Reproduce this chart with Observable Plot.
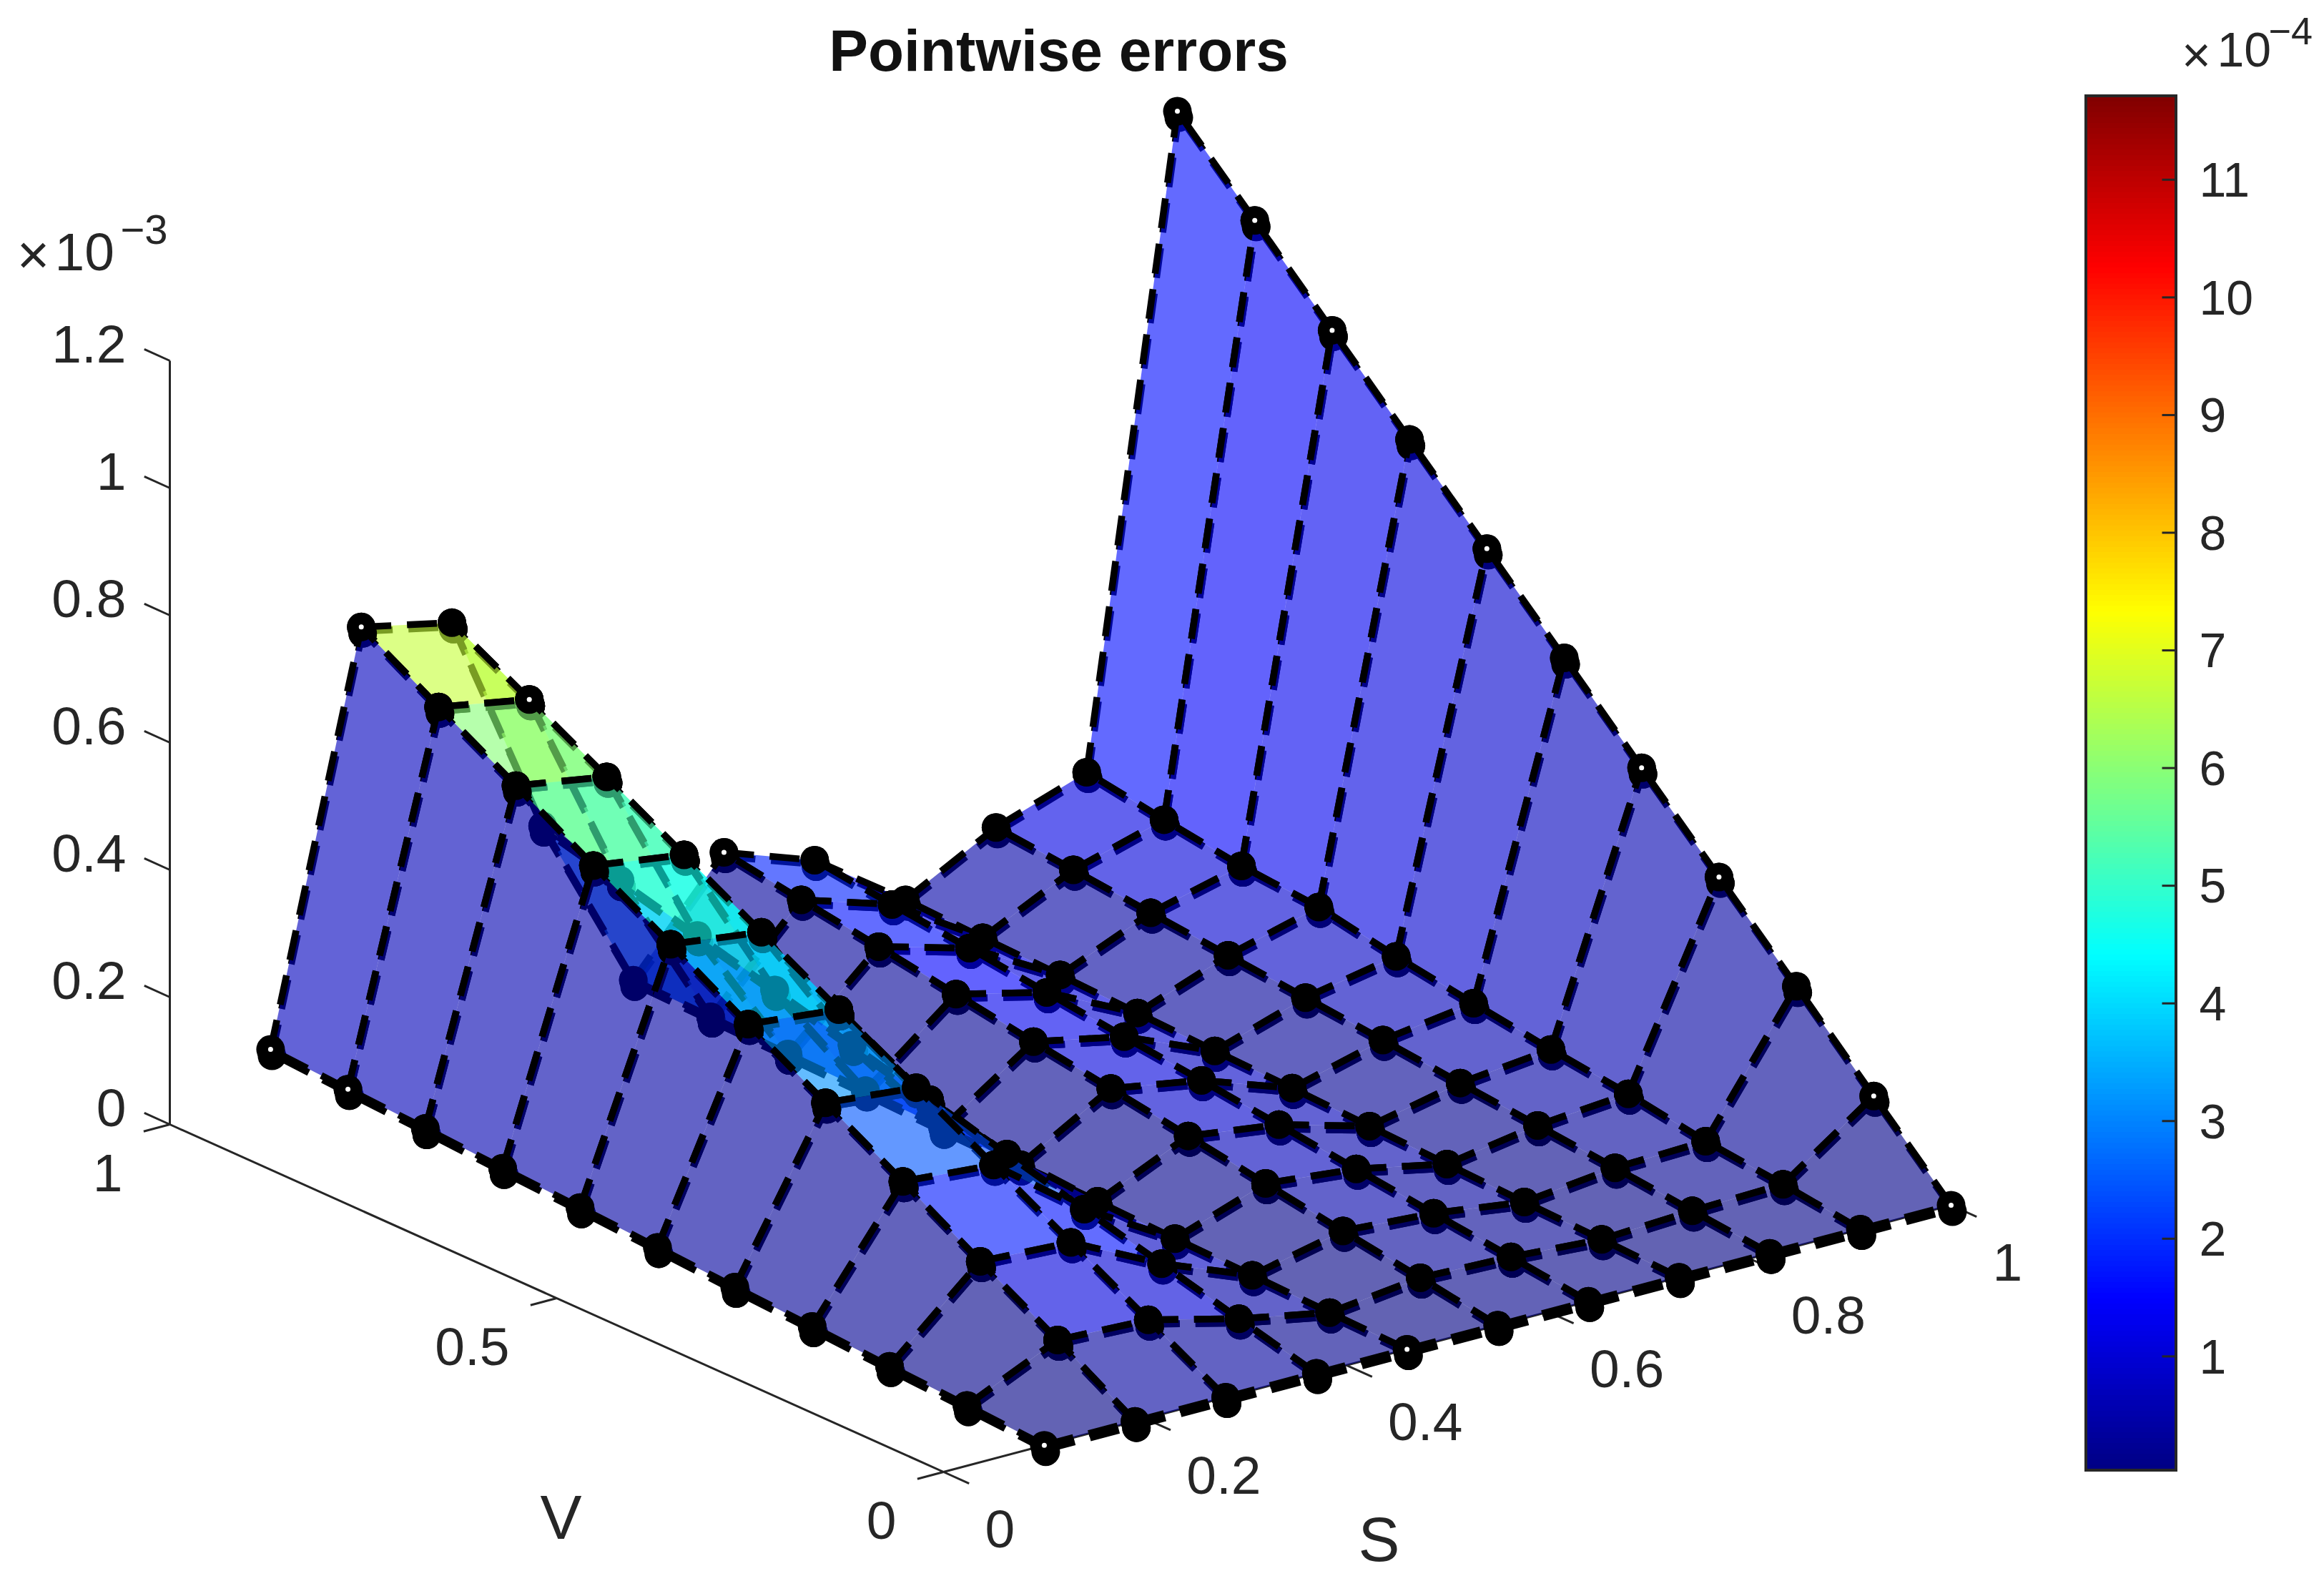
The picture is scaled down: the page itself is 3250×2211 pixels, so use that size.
<!DOCTYPE html>
<html><head><meta charset="utf-8">
<style>html,body{margin:0;padding:0;background:#fff}svg{display:block}</style>
<script src="https://cdn.jsdelivr.net/npm/d3@7"></script>
<script src="https://cdn.jsdelivr.net/npm/@observablehq/plot@0.6"></script>
</head><body><div id="chart"></div>
<script>
// ---- data ----
const sGrid = [0.1,0.19,0.28,0.37,0.46,0.55,0.64,0.73,0.82,0.91,1];
const vGrid = [0,0.1,0.2,0.3,0.4,0.5,0.6,0.7,0.8,0.9,1];
// error in units of 1e-3; one row per S, one column per V
const zRows = [
 [0,.008,.015,.023,.030,.038,.046,.053,.061,.068,.076],
 [0,.073,.142,.213,.282,.351,.422,.491,.562,.631,.702],
 [0,.067,.134,.201,.268,.336,.403,.470,.538,.605,.671],
 [0,.031,.063,.094,.126,.157,.188,.220,.251,.283,.314],
 [0,.003,.007,.010,.014,.017,.020,.024,.027,.031,.034],
 [0,.020,.039,.059,.079,.099,.118,.138,.158,.177,.197],
 [0,.015,.029,.044,.059,.074,.088,.103,.118,.132,.147],
 [0,.005,.009,.014,.019,.024,.028,.033,.038,.042,.047],
 [0,.012,.025,.037,.049,.062,.074,.086,.098,.111,.123],
 [0,.016,.029,.049,.064,.082,.101,.124,.134,.152,.172],
 [0,.117,.235,.352,.469,.587,.704,.821,.938,1.056,1.173]
];
const openNodes = [[0,10],[0,9],[10,10],[10,9],[10,8],[10,6],[10,4],[10,3],[10,1],[10,0],[0,0],[4,0],[1,10],[2,9],[5,10]];
const zTicks = [0,0.2,0.4,0.6,0.8,1,1.2];
const vTicks = [0,0.5,1];
const sTicks = [0,0.2,0.4,0.6,0.8,1];
const barTicks = [1,2,3,4,5,6,7,8,9,10,11];
const barRange = [0.03,11.71];
const jetT = [0,0.125,0.375,0.625,0.875,1];
const jetC = ["#000083","#0000ff","#00ffff","#ffff00","#ff0000","#800000"];

// ---- view ----
const W = 3250, H = 2211;
const ox = 1319, oy = 2058;
const view = {sx:1409, vx:-1082, sy:373, vy:486, zy:890};
const P = (s,v,z=0)=>({x:view.sx*s+view.vx*v, y:view.sy*s+view.vy*v+view.zy*z});
const sx = px=>px-ox, sy = py=>oy-py;
const jet = d3.scaleLinear().domain(jetT).range(jetC).interpolate(d3.interpolateRgb).clamp(true);

const ink = "#262626", FONT = "Liberation Sans, Arial, sans-serif";
const node = (i,j)=>({i,j,...P(sGrid[i],vGrid[j],zRows[i][j])});
const linkOpts = {x1:d=>d.a.x,y1:d=>d.a.y,x2:d=>d.b.x,y2:d=>d.b.y};
const axisLine = (rows,w=3)=>Plot.link(rows,{...linkOpts,stroke:ink,strokeWidth:w});

const marks = [];
// axes
marks.push(axisLine([
  {a:P(0,1,0),b:P(0,1,1.2)},
  {a:P(0,0,0),b:P(0,1,0)},
  {a:P(0,0,0),b:P(1,0,0)}
]));
marks.push(axisLine(zTicks.map(t=>({a:P(0,1,t),b:P(0,1.033,t)}))));
marks.push(axisLine(vTicks.map(t=>({a:P(0,t,0),b:P(-0.026,t,0)}))));
marks.push(axisLine(sTicks.map(t=>({a:P(t,0,0),b:P(t,-0.033,0)}))));
const tick = (rows,o)=>Plot.text(rows,{x:d=>d.p.x,y:d=>d.p.y,text:d=>String(d.t),fontFamily:FONT,fontSize:75,fill:ink,...o});
marks.push(tick(zTicks.map(t=>({t,p:P(0,1,t)})),{textAnchor:"end",dx:-61,dy:-22}));
marks.push(tick(vTicks.map(t=>({t,p:P(0,t,0)})),{textAnchor:"end",dx:-66,dy:69}));
marks.push(tick(sTicks.map(t=>({t,p:P(t,0,0)})),{textAnchor:"start",dx:58,dy:81}));

// surface: far cells first
const cells = [];
for (let i=0;i<sGrid.length-1;i++) for (let j=0;j<vGrid.length-1;j++) {
  const a=node(i,j),b=node(i+1,j),c=node(i+1,j+1),d=node(i,j+1);
  const value = 10*(0.5*zRows[i][j]+0.5*zRows[i][j+1]);
  cells.push({i,j,a,b,c,d,value,depth:P(sGrid[i],vGrid[j]).y});
}
cells.sort((p,q)=>q.depth-p.depth);
const dash = {stroke:"#000",strokeWidth:9.5,strokeDasharray:"42,22"};
for (const c of cells) {
  const segs = [{a:c.a,b:c.b},{a:c.d,b:c.c},{a:c.a,b:c.d},{a:c.b,b:c.c}];
  const pts = [c.a,c.b,c.c,c.d];
  marks.push(Plot.link(segs,{...linkOpts,...dash,dx:2,dy:6}));
  marks.push(Plot.dot(pts,{x:"x",y:"y",r:20,fill:"#000",dx:2,dy:9}));
  marks.push(Plot.line(pts.map(p=>({x:p.x,y:p.y,value:c.value})),{x:"x",y:"y",fill:"value",stroke:"none",fillOpacity:0.61,curve:"linear-closed"}));
  marks.push(Plot.link(segs,{...linkOpts,...dash}));
  marks.push(Plot.dot(pts,{x:"x",y:"y",r:20,fill:"#000"}));
}
marks.push(Plot.dot(openNodes.map(([i,j])=>node(i,j)),{x:"x",y:"y",r:3.5,fill:"#fff"}));

// colour bar
const bar = {x1:2917,x2:3043,top:134,bottom:2056};
const barY = v=>bar.top+(barRange[1]-v)/(barRange[1]-barRange[0])*(bar.bottom-bar.top);
const barLevels = d3.range(256).map(k=>barRange[0]+(barRange[1]-barRange[0])*k/256);
const step = (barRange[1]-barRange[0])/256;
marks.push(Plot.rect(barLevels,{x1:()=>sx(bar.x1),x2:()=>sx(bar.x2),y1:v=>sy(barY(v)),y2:v=>sy(barY(v+step)-1),fill:v=>v+step/2,shapeRendering:"crispEdges"}));
marks.push(Plot.rect([0],{x1:()=>sx(bar.x1),x2:()=>sx(bar.x2),y1:()=>sy(bar.bottom),y2:()=>sy(bar.top),fill:"none",stroke:ink,strokeWidth:4}));
marks.push(Plot.link(barTicks,{x1:()=>sx(bar.x2-20),x2:()=>sx(bar.x2),y1:v=>sy(barY(v)),y2:v=>sy(barY(v)),stroke:ink,strokeWidth:3}));
marks.push(Plot.text(barTicks,{x:()=>sx(3075),y:v=>sy(barY(v)),text:v=>String(v),textAnchor:"start",dy:2,fontFamily:FONT,fontSize:68,fill:ink}));

// titles and labels
const label = (t,px,py,o={})=>Plot.text([t],{x:()=>sx(px),y:()=>sy(py),text:d=>d,fontFamily:FONT,fontSize:68,fill:ink,...o});
marks.push(label("Pointwise errors",1480,72,{fontSize:82,fontWeight:"bold",fill:"#111"}));
marks.push(label("V",784,2124,{fontSize:87}));
marks.push(label("S",1928,2155,{fontSize:87}));
marks.push(label("×",46,358,{fontSize:78}));
marks.push(label("10",76,353,{textAnchor:"start",fontSize:75}));
marks.push(label("−3",168,322,{textAnchor:"start",fontSize:58}));
marks.push(label("×",3071,78,{fontSize:70}));
marks.push(label("10",3100,71,{textAnchor:"start"}));
marks.push(label("−4",3172,44,{textAnchor:"start",fontSize:54}));

const chart = Plot.plot({
  width:W,height:H,margin:0,
  style:{background:"#fff"},
  x:{domain:[-ox,W-ox],range:[0,W],axis:null},
  y:{domain:[oy-H,oy],range:[H,0],axis:null},
  color:{type:"linear",domain:barRange,interpolate:t=>jet(t)},
  marks
});
document.getElementById("chart").appendChild(chart);
</script>
</body></html>
